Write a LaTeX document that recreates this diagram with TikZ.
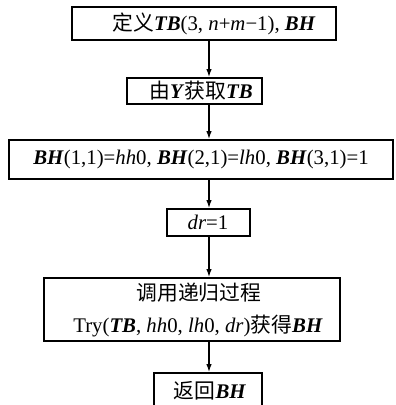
\documentclass[tikz,border=0pt]{standalone}
\usepackage{fontspec}
\setmainfont{Liberation Serif}
\newfontfamily\cjk{Noto Sans CJK SC}
\usetikzlibrary{arrows.meta}
\newcommand\bi[1]{\textbf{\textit{#1}}}
\begin{document}
\begin{tikzpicture}[x=1pt,y=-1pt,
  box/.style={draw, line width=1.7pt, inner sep=0pt},
  lbl/.style={inner sep=0pt, font=\fontsize{20.8}{24}\selectfont},
  arr/.style={line width=1.4pt, -{Latex[length=8pt,width=5.5pt]}}]
\useasboundingbox (0,0) rectangle (396,405);
% boxes
\node[box, minimum width=264pt, minimum height=33pt] (b1) at (204,23.5) {};
\node[box, minimum width=135pt, minimum height=26pt] (b2) at (194.5,91) {};
\node[box, minimum width=384pt, minimum height=39pt] (b3) at (201,159.5) {};
\node[box, minimum width=83pt, minimum height=27pt] (b4) at (208.5,222.5) {};
\node[box, minimum width=296pt, minimum height=63pt] (b5) at (192,309.5) {};
\node[box, minimum width=108pt, minimum height=37pt] (b6) at (208,391.5) {};
% texts
\node[lbl] (t1) at (214,23.5) {{\cjk 定义}\bi{TB}(3, \textit{n}+\textit{m}−1), \bi{BH}};
\node[lbl] (t2) at (201,91) {{\cjk 由}\bi{Y}{\cjk 获取}\bi{TB}};
\node[lbl] (t3) at (201,159.5) {\bi{BH}(1,1)=\textit{hh}0, \bi{BH}(2,1)=\textit{lh}0, \bi{BH}(3,1)=1};
\node[lbl] (t4) at (208,222.5) {\textit{dr}=1};
\node[lbl] (t5a) at (199,293) {\cjk 调用递归过程};
\node[lbl] (t5b) at (198,326.5) {Try(\bi{TB}, \textit{hh}0, \textit{lh}0, \textit{dr}){\cjk 获得}\bi{BH}};
\node[lbl] (t6) at (210,391) {{\cjk 返回}\bi{BH}};
% arrows
\coordinate (ax) at (209,0);
\draw[arr] (b1.south -| ax) -- (b2.north -| ax);
\draw[arr] (b2.south -| ax) -- (b3.north -| ax);
\draw[arr] (b3.south -| ax) -- (b4.north -| ax);
\draw[arr] (b4.south -| ax) -- (b5.north -| ax);
\draw[arr] (b5.south -| ax) -- (b6.north -| ax);
\end{tikzpicture}
\end{document}
